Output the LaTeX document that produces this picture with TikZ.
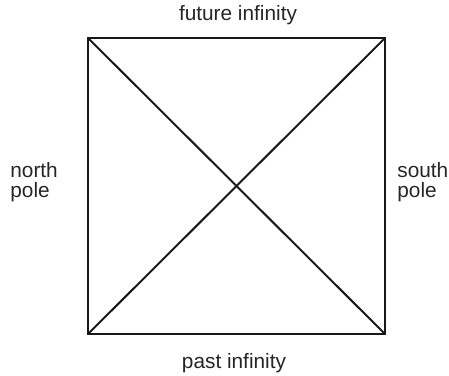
\documentclass[tikz,border=0pt]{standalone}
\usepackage{fontspec}
\setmainfont{Liberation Sans}
\usetikzlibrary{positioning}
\begin{document}
\begin{tikzpicture}[x=0.5pt, y=-0.5pt,
    edge/.style={line width=1pt, draw=black!90},
    lbl/.style={font=\fontsize{10.4}{9.6}\selectfont, inner sep=0pt,
                align=left, text=black!85}
  ]
  \useasboundingbox (0,0) rectangle (449,375);
  % corners of the diagram
  \coordinate (nw) at (88,38);
  \coordinate (ne) at (385,38);
  \coordinate (se) at (385,334);
  \coordinate (sw) at (88,334);
  \draw[edge] (nw) -- (ne) -- (se) -- (sw) -- cycle;
  \draw[edge] (nw) -- (se);
  \draw[edge] (ne) -- (sw);
  % labels
  \node[lbl, anchor=base] (future) at (238,20) {future infinity};
  \node[lbl, anchor=base] (past) at (234,368) {past infinity};
  \node[lbl, anchor=base west] (north) at (10,197) {north\\pole};
  \node[lbl, anchor=base west] (south) at (397,197) {south\\pole};
\end{tikzpicture}
\end{document}
